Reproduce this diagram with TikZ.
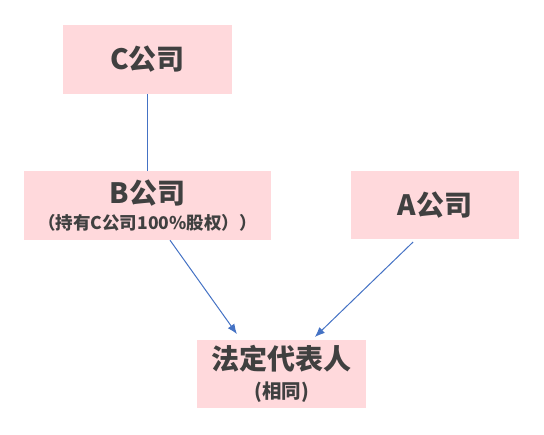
\documentclass[tikz,border=0pt]{standalone}
\usepackage{fontspec}
\newfontfamily\cjk{Noto Sans CJK SC}
\usetikzlibrary{arrows.meta,positioning}
\definecolor{boxpink}{HTML}{FFD9DC}
\definecolor{txtgray}{HTML}{404040}
\definecolor{linkblue}{HTML}{4472C4}
\newcommand{\ttlsize}{\bfseries\fontsize{28}{30}\selectfont}
\newcommand{\subsize}{\bfseries\fontsize{17.5}{20}\selectfont}

\begin{document}
\begin{tikzpicture}[x=1pt,y=-1pt,
	firm/.style={rectangle,fill=boxpink,minimum width=169pt,minimum height=69pt,inner sep=0pt,align=center,text=txtgray,font=\cjk},
	link/.style={draw=linkblue,line width=1pt},
	>={Latex[length=10pt,width=8pt]}]
	\useasboundingbox (0,0) rectangle (544,435);
	
	\node[firm] (c) at (147.5,59.5) {\ttlsize C公司};
	\node[firm,minimum width=247pt] (b) at (147.5,205.5) {\ttlsize B公司\\[7pt]\subsize （持有C公司100\%股权））};
	\node[firm,minimum width=168pt,minimum height=68pt] (a) at (435,205) {\ttlsize A公司};
	\node[firm,minimum height=68pt] (rep) at (281.5,374) {\ttlsize 法定代表人\\[8pt]\subsize\fontsize{19.5}{20}\selectfont (相同)};
	
	\draw[link] (c) -- (b);
	\draw[link,->,shorten >=7pt] ([xshift=22.5pt]b.south) -- ([xshift=-40.5pt]rep.north);
	\draw[link,->,shorten <=4pt,shorten >=4pt] ([xshift=-19pt]a.south) -- ([xshift=30.5pt]rep.north);
	
\end{tikzpicture}
\end{document}
